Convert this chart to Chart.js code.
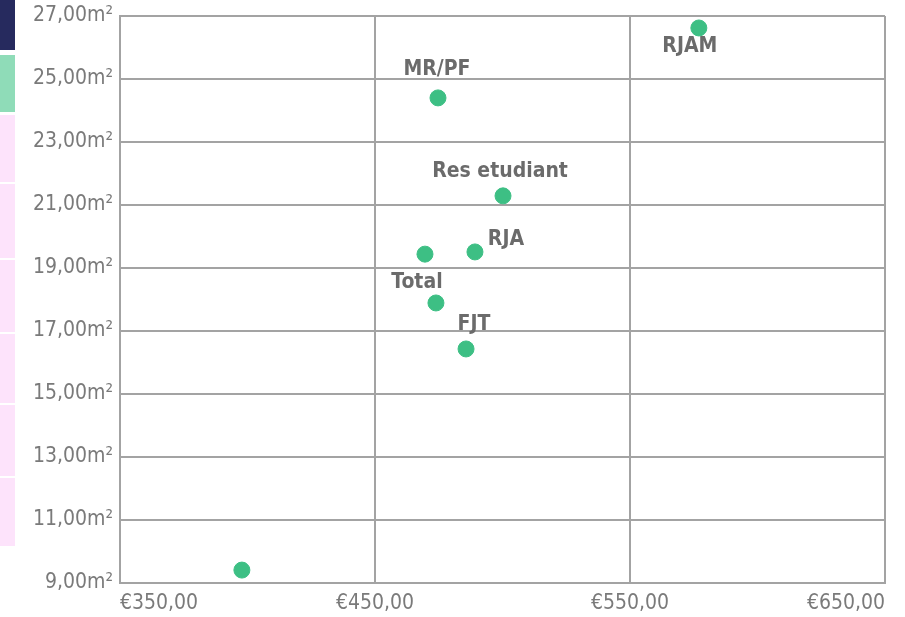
<!DOCTYPE html>
<html>
<head>
<meta charset="utf-8">
<script src="https://cdn.jsdelivr.net/npm/chart.js@4"></script>
<style>
  html, body { margin: 0; padding: 0; background: #fff; }
  #wrap { position: relative; width: 905px; height: 617px; }
  .strip { position: absolute; left: 0; width: 15px; }
  canvas { position: absolute; left: 0; top: 0; }
</style>
</head>
<body>
<div id="wrap">
  <div class="strip" style="top:0;height:50px;background:#262a5e"></div>
  <div class="strip" style="top:55px;height:57px;background:#8fdcb8"></div>
  <div class="strip" style="top:115px;height:67px;background:#fde3fb"></div>
  <div class="strip" style="top:184px;height:74px;background:#fde3fb"></div>
  <div class="strip" style="top:260px;height:72px;background:#fde3fb"></div>
  <div class="strip" style="top:334px;height:69px;background:#fde3fb"></div>
  <div class="strip" style="top:405px;height:71px;background:#fde3fb"></div>
  <div class="strip" style="top:478px;height:68px;background:#fde3fb"></div>
  <canvas id="myChart" width="905" height="617"></canvas>
</div>
<script>
document.addEventListener("DOMContentLoaded", () => {

  // prix moyen (€) et surface moyenne (m²)
  const names   = ["", "MR/PF", "Res etudiant", "RJA", "", "Total", "FJT", "RJAM"];
  const prices  = [397.8, 474.7, 500.2, 489.2, 469.6, 473.9, 485.7, 577.0];
  const surfaces = [9.41, 24.40, 21.29, 19.51, 19.44, 17.89, 16.43, 26.62];

  const xTicks = [350, 450, 550, 650];
  const yTicks = [9, 11, 13, 15, 17, 19, 21, 23, 25, 27];

  // décalage des étiquettes par rapport au point (px)
  const labelPos = {
    "MR/PF":        { dx: -1,  dy: -28 },
    "Res etudiant": { dx: -3,  dy: -24 },
    "RJA":          { dx: 31,  dy: -12 },
    "Total":        { dx: -19, dy: -20 },
    "FJT":          { dx: 8,   dy: -24 },
    "RJAM":         { dx: -9,  dy: 19 }
  };

  const fmt = (v) => v.toFixed(2).replace('.', ',');
  const tickFont = { family: "'Liberation Sans Narrow', 'DejaVu Sans Condensed', sans-serif", size: 21 };

  const pointLabels = {
    id: 'pointLabels',
    afterDatasetsDraw(chart) {
      const c = chart.ctx;
      const meta = chart.getDatasetMeta(0);
      c.save();
      c.font = "bold 21px 'Liberation Sans Narrow', 'DejaVu Sans Condensed', sans-serif";
      c.fillStyle = '#6b6b6b';
      c.textAlign = 'center';
      c.textBaseline = 'middle';
      meta.data.forEach((pt, i) => {
        const name = names[i];
        if (!name) return;
        const off = labelPos[name] || { dx: 0, dy: -22 };
        c.fillText(name, pt.x + off.dx, pt.y + off.dy);
      });
      c.restore();
    }
  };

  const ctx = document.getElementById('myChart').getContext('2d');

  new Chart(ctx, {
    type: 'scatter',
    data: {
      datasets: [{
        data: prices.map((p, i) => ({ x: p, y: surfaces[i] })),
        backgroundColor: '#3dbf84',
        borderColor: '#3dbf84',
        pointRadius: 8,
        pointHoverRadius: 8
      }]
    },
    options: {
      responsive: false,
      animation: false,
      layout: { padding: { top: 16, right: 20, left: 0, bottom: 0 } },
      plugins: {
        legend: { display: false },
        tooltip: { enabled: false }
      },
      scales: {
        x: {
          type: 'linear',
          min: 350,
          max: 650,
          afterBuildTicks: (axis) => { axis.ticks = xTicks.map(v => ({ value: v })); },
          afterFit: (axis) => { axis.height = 34; axis.paddingLeft = 0; axis.paddingRight = 0; },
          ticks: {
            color: '#7a7a7a',
            font: tickFont,
            padding: 8,
            maxRotation: 0,
            align: 'inner',
            callback: (v) => '€' + fmt(v)
          },
          grid: { color: '#a3a3a3', lineWidth: 2, drawTicks: false },
          border: { color: '#a3a3a3', width: 2 }
        },
        y: {
          min: 9,
          max: 27,
          afterBuildTicks: (axis) => { axis.ticks = yTicks.map(v => ({ value: v })); },
          afterFit: (axis) => { axis.width = 120; axis.paddingTop = 0; axis.paddingBottom = 0; },
          ticks: {
            color: '#7a7a7a',
            font: tickFont,
            padding: 7,
            callback: (v) => fmt(v) + 'm²'
          },
          grid: { color: '#a3a3a3', lineWidth: 2, drawTicks: false },
          border: { color: '#a3a3a3', width: 2 }
        }
      }
    },
    plugins: [pointLabels]
  });

});
</script>
</body>
</html>
